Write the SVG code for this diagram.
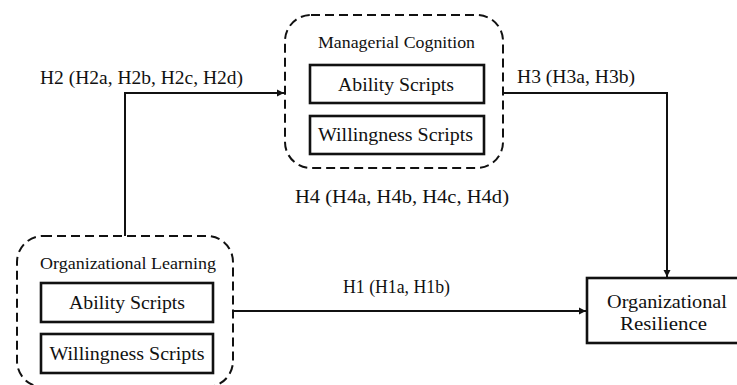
<svg xmlns="http://www.w3.org/2000/svg" width="737" height="385" viewBox="0 0 737 385">
<style>
text{font-family:"Liberation Serif","DejaVu Serif","Times New Roman",serif;fill:#111;}
.lbl{font-size:19px;}
.box{font-size:19px;text-anchor:middle;}
.ttl{font-size:17px;text-anchor:middle;}
.dash{fill:none;stroke:#111;stroke-width:2;stroke-dasharray:9 5;}
.solid{fill:#fff;stroke:#111;stroke-width:2.6;}
.conn{fill:none;stroke:#111;stroke-width:2;}
</style>
<defs>
<marker id="arr" markerWidth="8" markerHeight="8" refX="7" refY="4" orient="auto" markerUnits="userSpaceOnUse">
<path d="M0,0.5 L7,4 L0,7.5 Z" fill="#111"/>
</marker>
</defs>
<rect width="737" height="385" fill="#fff"/>
<g id="connectors">
<path class="conn" d="M125,236 V93 H284" marker-end="url(#arr)"/>
<path class="conn" d="M503,93 H667 V277" marker-end="url(#arr)"/>
<path class="conn" d="M233,311 H586" marker-end="url(#arr)"/>
<text class="lbl" font-family="Liberation Serif, DejaVu Serif, serif" x="40" y="84" textLength="203" lengthAdjust="spacingAndGlyphs">H2 (H2a, H2b, H2c, H2d)</text>
<text class="lbl" font-family="Liberation Serif, DejaVu Serif, serif" x="517" y="83" textLength="118" lengthAdjust="spacingAndGlyphs">H3 (H3a, H3b)</text>
<text class="lbl" font-family="Liberation Serif, DejaVu Serif, serif" x="295" y="203" textLength="214" lengthAdjust="spacingAndGlyphs">H4 (H4a, H4b, H4c, H4d)</text>
<text class="lbl" font-family="Liberation Serif, DejaVu Serif, serif" x="343" y="293" textLength="107" lengthAdjust="spacingAndGlyphs">H1 (H1a, H1b)</text>
</g>
<g id="managerial-cognition">
<rect class="dash" x="285" y="15" width="218" height="153" rx="26"/>
<text class="ttl" font-family="Liberation Serif, DejaVu Serif, serif" x="396.5" y="48" textLength="157" lengthAdjust="spacingAndGlyphs">Managerial Cognition</text>
<g id="mc-ability">
<rect class="solid" x="310" y="65" width="174" height="38"/>
<text class="box" font-family="Liberation Serif, DejaVu Serif, serif" x="396" y="91" textLength="116" lengthAdjust="spacingAndGlyphs">Ability Scripts</text>
</g>
<g id="mc-willingness">
<rect class="solid" x="310" y="116" width="174" height="38"/>
<text class="box" font-family="Liberation Serif, DejaVu Serif, serif" x="395.5" y="141" textLength="155" lengthAdjust="spacingAndGlyphs">Willingness Scripts</text>
</g>
</g>
<g id="organizational-learning">
<rect class="dash" x="17" y="236" width="216" height="151" rx="26"/>
<text class="ttl" font-family="Liberation Serif, DejaVu Serif, serif" x="128" y="269" textLength="176" lengthAdjust="spacingAndGlyphs">Organizational Learning</text>
<g id="ol-ability">
<rect class="solid" x="41" y="283" width="172" height="39"/>
<text class="box" font-family="Liberation Serif, DejaVu Serif, serif" x="127" y="309" textLength="116" lengthAdjust="spacingAndGlyphs">Ability Scripts</text>
</g>
<g id="ol-willingness">
<rect class="solid" x="41" y="334" width="172" height="39"/>
<text class="box" font-family="Liberation Serif, DejaVu Serif, serif" x="127" y="360" textLength="155" lengthAdjust="spacingAndGlyphs">Willingness Scripts</text>
</g>
</g>
<g id="organizational-resilience">
<rect class="solid" x="587" y="278" width="165" height="65"/>
<text class="box" font-family="Liberation Serif, DejaVu Serif, serif" x="667" y="308" textLength="120" lengthAdjust="spacingAndGlyphs">Organizational</text>
<text class="box" font-family="Liberation Serif, DejaVu Serif, serif" x="663.5" y="330" textLength="87" lengthAdjust="spacingAndGlyphs">Resilience</text>
</g>
</svg>
